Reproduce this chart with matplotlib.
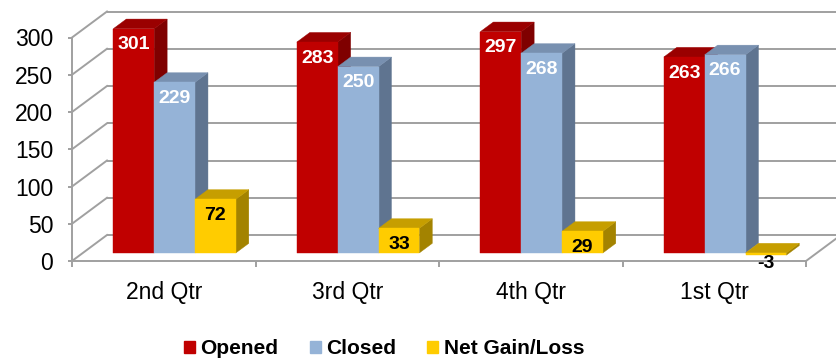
import matplotlib
matplotlib.use("Agg")
import matplotlib.pyplot as plt
from matplotlib.patches import Polygon, Patch

quarters = ["2nd Qtr", "3rd Qtr", "4th Qtr", "1st Qtr"]
series = ["Opened", "Closed", "Net Gain/Loss"]
opened = [301, 283, 297, 263]
closed = [229, 250, 268, 266]
net = [72, 33, 29, -3]
y_ticks = [0, 50, 100, 150, 200, 250, 300]

# front / top / side shades for each series, plus label colour
front_col = ["#c00000", "#95b3d7", "#ffcc00"]
top_col = ["#9a0000", "#7890b0", "#c69e00"]
side_col = ["#7f0000", "#5f7490", "#a38300"]
label_col = ["white", "white", "black"]

FONT = "Liberation Sans"
GRID = "#a0a0a0"

W, H = 837, 362
fig = plt.figure(figsize=(W / 100, H / 100), dpi=100, facecolor="white")

# plot area in pixels: front floor 72..806, value 0 at y=261, 300 at y=37.5
px_left, px_right, px_y0, px_ytop = 72, 806, 261, 37.5
ax = fig.add_axes([px_left / W, 1 - px_y0 / H,
                   (px_right - px_left) / W, (px_y0 - px_ytop) / H])
ax.set_xlim(-0.5, 3.5)
ax.set_ylim(0, 300)
ax.patch.set_visible(False)

sx = (px_right - px_left) / 4.0          # pixels per category
sy = (px_y0 - px_ytop) / 300.0           # pixels per unit
DX = 35 / sx                             # full depth offset, data units
DY = 26 / sy


def proj(x, y, d):
    return (x + d * DX, y + d * DY)


# back wall + left wall gridlines
for v in y_ticks:
    ax.plot(*zip(proj(-0.5, v, 1), proj(3.5, v, 1)), color=GRID, lw=1.4,
            clip_on=False, zorder=1, solid_capstyle="butt")
    ax.plot(*zip(proj(-0.5, v, 0), proj(-0.5, v, 1)), color=GRID, lw=1.4,
            clip_on=False, zorder=1)
# right floor edge
ax.plot(*zip(proj(3.5, 0, 0), proj(3.5, 0, 1)), color=GRID, lw=1.4,
        clip_on=False, zorder=1)

# axes spines / ticks
for s in ["top", "right"]:
    ax.spines[s].set_visible(False)
for s in ["left", "bottom"]:
    ax.spines[s].set_color(GRID)
    ax.spines[s].set_linewidth(1.4)

ax.set_yticks(y_ticks)
ax.set_yticklabels([str(v) for v in y_ticks], fontfamily=FONT, fontsize=16.5)
ax.tick_params(axis="y", length=3, width=1.4, color=GRID, pad=10.5)

ax.set_xticks([-0.5, 0.5, 1.5, 2.5, 3.5])
ax.set_xticklabels([])
ax.set_xticks(range(len(quarters)), quarters, minor=True)
ax.tick_params(axis="x", which="major", length=4.3, width=1.4, color=GRID)
ax.tick_params(axis="x", which="minor", length=0, pad=14.5, labelsize=16.5)
for t in ax.get_xticklabels(minor=True):
    t.set_fontfamily(FONT)

# 3D bars
bw = 0.2225
d0, d1 = 0.31, 0.68
z = 3
for i in range(len(quarters)):
    for j, vals in enumerate([opened, closed, net]):
        v = vals[i]
        xl = i - 1.5 * bw + j * bw
        xr = xl + bw
        lo, hi = min(0, v), max(0, v)
        front = [proj(xl, lo, d0), proj(xr, lo, d0), proj(xr, hi, d0), proj(xl, hi, d0)]
        top = [proj(xl, hi, d0), proj(xr, hi, d0), proj(xr, hi, d1), proj(xl, hi, d1)]
        side = [proj(xr, lo, d0), proj(xr, lo, d1), proj(xr, hi, d1), proj(xr, hi, d0)]
        for pts, col in [(side, side_col[j]), (top, top_col[j]), (front, front_col[j])]:
            ax.add_patch(Polygon(pts, closed=True, facecolor=col, edgecolor=col,
                                 lw=0.3, clip_on=False, zorder=z))
        z += 1

        cx, cy = proj(xl + bw / 2, v, d0)
        if v >= 0:
            ty = cy - 16 / sy
        else:
            ty = cy - 8 / sy
        ax.text(cx, ty, str(v), ha="center", va="center", color=label_col[j],
                fontsize=14, fontweight="bold", fontfamily=FONT, zorder=100)

handles = [Patch(facecolor=c, edgecolor=c) for c in front_col]
fig.legend(handles, series, loc="center", bbox_to_anchor=(0.459, 0.036),
           ncol=3, frameon=False, handlelength=0.53, handleheight=0.53,
           handletextpad=0.25, columnspacing=1.5,
           prop={"family": FONT, "weight": "bold", "size": 15})

fig.savefig("out.png", dpi=100, facecolor="white")
